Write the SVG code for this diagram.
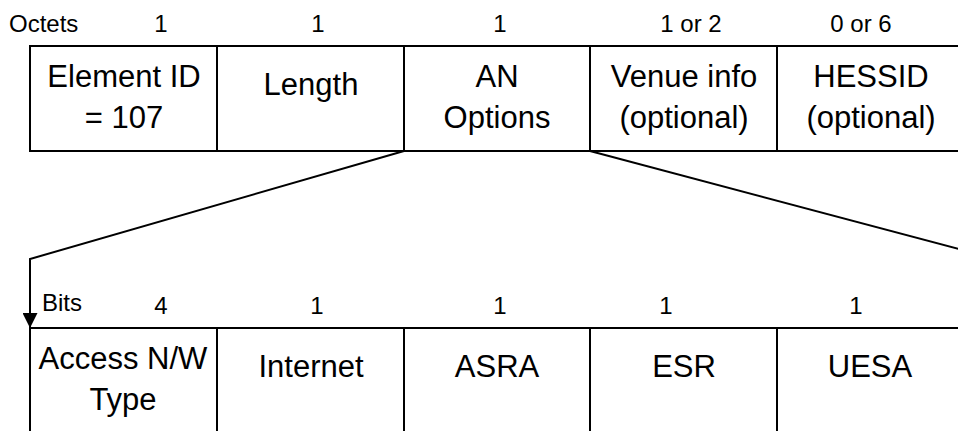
<svg xmlns="http://www.w3.org/2000/svg" width="958" height="431" viewBox="0 0 958 431">
<style>
  .box { fill: #ffffff; stroke: #000000; stroke-width: 2; }
  .lbl { font-family: "Liberation Sans", Arial, sans-serif; font-size: 31px; fill: #000000; text-anchor: middle; }
  .num { font-family: "Liberation Sans", Arial, sans-serif; font-size: 24px; fill: #000000; text-anchor: middle; }
  .hdr { font-family: "Liberation Sans", Arial, sans-serif; font-size: 24px; fill: #000000; text-anchor: start; }
  .conn { fill: none; stroke: #000000; stroke-width: 2; }
</style>
<defs>
  <marker id="arrow" viewBox="0 0 15 15" refX="15" refY="7.5" markerWidth="15" markerHeight="15" orient="auto" markerUnits="userSpaceOnUse">
    <path d="M0,0 L15,7.5 L0,15 z" fill="#000000"/>
  </marker>
</defs>
<rect x="0" y="0" width="958" height="431" fill="#ffffff"/>

<g id="octets-header">
  <text class="hdr" x="9" y="32">Octets</text>
  <text class="num" x="161" y="32">1</text>
  <text class="num" x="318" y="32">1</text>
  <text class="num" x="500" y="32">1</text>
  <text class="num" x="691" y="32">1 or 2</text>
  <text class="num" x="861" y="32">0 or 6</text>
</g>

<g id="element-id">
  <rect class="box" x="30" y="46" width="187" height="105"/>
  <text class="lbl" x="124" y="87">Element ID</text>
  <text class="lbl" x="124" y="128">= 107</text>
</g>
<g id="length">
  <rect class="box" x="217" y="46" width="187" height="105"/>
  <text class="lbl" x="311" y="95">Length</text>
</g>
<g id="an-options">
  <rect class="box" x="404" y="46" width="186" height="105"/>
  <text class="lbl" x="497" y="87">AN</text>
  <text class="lbl" x="497" y="128">Options</text>
</g>
<g id="venue-info">
  <rect class="box" x="590" y="46" width="187" height="105"/>
  <text class="lbl" x="684" y="87">Venue info</text>
  <text class="lbl" x="684" y="128">(optional)</text>
</g>
<g id="hessid">
  <rect class="box" x="777" y="46" width="188" height="105"/>
  <text class="lbl" x="871" y="87">HESSID</text>
  <text class="lbl" x="871" y="128">(optional)</text>
</g>

<g id="connectors">
  <polyline class="conn" points="404,151 30,259 30,328" marker-end="url(#arrow)"/>
  <line class="conn" x1="590" y1="151" x2="1000" y2="260"/>
</g>

<g id="bits-header">
  <text class="hdr" x="42" y="311">Bits</text>
  <text class="num" x="161" y="314">4</text>
  <text class="num" x="317" y="314">1</text>
  <text class="num" x="500" y="314">1</text>
  <text class="num" x="666" y="314">1</text>
  <text class="num" x="856" y="314">1</text>
</g>

<g id="access-nw-type">
  <rect class="box" x="30" y="328" width="187" height="130"/>
  <text class="lbl" x="123" y="369">Access N/W</text>
  <text class="lbl" x="123" y="410">Type</text>
</g>
<g id="internet">
  <rect class="box" x="217" y="328" width="187" height="130"/>
  <text class="lbl" x="311" y="377">Internet</text>
</g>
<g id="asra">
  <rect class="box" x="404" y="328" width="186" height="130"/>
  <text class="lbl" x="497" y="377">ASRA</text>
</g>
<g id="esr">
  <rect class="box" x="590" y="328" width="187" height="130"/>
  <text class="lbl" x="684" y="377">ESR</text>
</g>
<g id="uesa">
  <rect class="box" x="777" y="328" width="188" height="130"/>
  <text class="lbl" x="870" y="377">UESA</text>
</g>
</svg>
